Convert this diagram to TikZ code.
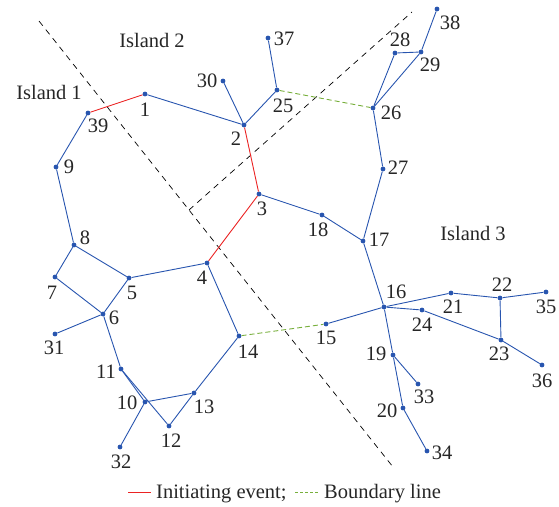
\documentclass[tikz,border=0pt]{standalone}
\usepackage{fontspec}
\setmainfont{Liberation Serif}

\definecolor{feedercol}{RGB}{40,85,175}
\definecolor{faultcol}{RGB}{235,35,35}
\definecolor{tiecol}{RGB}{120,175,60}

\tikzset{
  bus/.style={circle, fill=feedercol, inner sep=0pt, minimum size=4.8pt},
  num/.style={font=\fontsize{20.5}{24}\selectfont, inner sep=0pt, text=black!85},
  feeder/.style={feedercol, line width=0.9pt},
  fault/.style={faultcol, line width=0.9pt},
  tieline/.style={tiecol, line width=0.9pt, dash pattern=on 5pt off 3pt},
  boundary/.style={black, line width=0.7pt, dash pattern=on 6pt off 5pt},
}

\begin{document}
\begin{tikzpicture}[x=1pt, y=-1pt, line join=round]

    \useasboundingbox (0,0) rectangle (559,506);

    % island boundaries
    \coordinate (cutAs) at (39,21);
    \coordinate (cutAe) at (393,467);
    \coordinate (cutBs) at (189,210);
    \coordinate (cutBe) at (412,12);
    \draw[boundary] (cutAs) -- (cutAe);
    \draw[boundary] (cutBs) -- (cutBe);

    % buses
    \node[bus] (b1)  at (145,94)  {};
    \node[bus] (b2)  at (244,125) {};
    \node[bus] (b3)  at (259,194) {};
    \node[bus] (b4)  at (207,263) {};
    \node[bus] (b5)  at (129,278) {};
    \node[bus] (b6)  at (103,314) {};
    \node[bus] (b7)  at (55,277)  {};
    \node[bus] (b8)  at (74,245)  {};
    \node[bus] (b9)  at (56,167)  {};
    \node[bus] (b10) at (145,402) {};
    \node[bus] (b11) at (121,369) {};
    \node[bus] (b12) at (169,426) {};
    \node[bus] (b13) at (194,393) {};
    \node[bus] (b14) at (239,336) {};
    \node[bus] (b15) at (326,324) {};
    \node[bus] (b16) at (384,307) {};
    \node[bus] (b17) at (363,241) {};
    \node[bus] (b18) at (322,215) {};
    \node[bus] (b19) at (393,355) {};
    \node[bus] (b20) at (403,408) {};
    \node[bus] (b21) at (451,293) {};
    \node[bus] (b22) at (500,298) {};
    \node[bus] (b23) at (501,340) {};
    \node[bus] (b24) at (422,310) {};
    \node[bus] (b25) at (277,90)  {};
    \node[bus] (b26) at (373,108) {};
    \node[bus] (b27) at (383,169) {};
    \node[bus] (b28) at (395,53)  {};
    \node[bus] (b29) at (421,52)  {};
    \node[bus] (b30) at (223,81)  {};
    \node[bus] (b31) at (55,334)  {};
    \node[bus] (b32) at (120,447) {};
    \node[bus] (b33) at (418,384) {};
    \node[bus] (b34) at (427,451) {};
    \node[bus] (b35) at (546,292) {};
    \node[bus] (b36) at (542,365) {};
    \node[bus] (b37) at (268,38)  {};
    \node[bus] (b38) at (437,9)   {};
    \node[bus] (b39) at (88,113)  {};

    % bus numbers
    \node[num] (t1)  at (145,110) {1};
    \node[num] (t2)  at (236,139) {2};
    \node[num] (t3)  at (262,209) {3};
    \node[num] (t4)  at (202,278) {4};
    \node[num] (t5)  at (132,293) {5};
    \node[num] (t6)  at (114,318) {6};
    \node[num] (t7)  at (52,293)  {7};
    \node[num] (t8)  at (85,238)  {8};
    \node[num] (t9)  at (69,167)  {9};
    \node[num] (t10) at (127,403) {10};
    \node[num] (t11) at (106,372) {11};
    \node[num] (t12) at (171,441) {12};
    \node[num] (t13) at (204,407) {13};
    \node[num] (t14) at (248,352) {14};
    \node[num] (t15) at (326,338) {15};
    \node[num] (t16) at (396,292) {16};
    \node[num] (t17) at (379,240) {17};
    \node[num] (t18) at (318,230) {18};
    \node[num] (t19) at (376,354) {19};
    \node[num] (t20) at (387,411) {20};
    \node[num] (t21) at (453,307) {21};
    \node[num] (t22) at (502,285) {22};
    \node[num] (t23) at (499,354) {23};
    \node[num] (t24) at (422,325) {24};
    \node[num] (t25) at (283,106) {25};
    \node[num] (t26) at (391,113) {26};
    \node[num] (t27) at (398,168) {27};
    \node[num] (t28) at (400,40)  {28};
    \node[num] (t29) at (430,65)  {29};
    \node[num] (t30) at (207,81)  {30};
    \node[num] (t31) at (54,348)  {31};
    \node[num] (t32) at (121,462) {32};
    \node[num] (t33) at (424,397) {33};
    \node[num] (t34) at (442,453) {34};
    \node[num] (t35) at (546,307) {35};
    \node[num] (t36) at (542,381) {36};
    \node[num] (t37) at (284,39)  {37};
    \node[num] (t38) at (450,23)  {38};
    \node[num] (t39) at (98,126)  {39};

    % island names
    \node[num] (isl1) at (49,92)   {Island 1};
    \node[num] (isl2) at (152,40)  {Island 2};
    \node[num] (isl3) at (473,233) {Island 3};

    % tripped lines (initiating event)
    \draw[fault] (b39) -- (b1);
    \draw[fault] (b2) -- (b3);
    \draw[fault] (b3) -- (b4);

    % open tie lines across the boundary
    \draw[tieline] (b25) -- (b26);
    \draw[tieline] (b14) -- (b15);

    % island 1
    \draw[feeder] (b39) -- (b9) -- (b8) -- (b7) -- (b6) -- (b5) -- (b8);
    \draw[feeder] (b5) -- (b4) -- (b14) -- (b13) -- (b12) -- (b11) -- (b6);
    \draw[feeder] (b6) -- (b31);
    \draw[feeder] (b11) -- (b10) -- (b13);
    \draw[feeder] (b10) -- (b32);

    % island 2
    \draw[feeder] (b1) -- (b2) -- (b30);
    \draw[feeder] (b2) -- (b25) -- (b37);
    \draw[feeder] (b3) -- (b18) -- (b17) -- (b27) -- (b26) -- (b28) -- (b29) -- (b26);
    \draw[feeder] (b29) -- (b38);

    % island 3
    \draw[feeder] (b17) -- (b16) -- (b15);
    \draw[feeder] (b16) -- (b21) -- (b22) -- (b35);
    \draw[feeder] (b22) -- (b23) -- (b36);
    \draw[feeder] (b16) -- (b24) -- (b23);
    \draw[feeder] (b16) -- (b19) -- (b20) -- (b34);
    \draw[feeder] (b19) -- (b33);

    % legend
    \coordinate (legRs) at (128,492);
    \coordinate (legRe) at (151,492);
    \coordinate (legGs) at (295,492);
    \coordinate (legGe) at (318,492);
    \draw[fault] (legRs) -- (legRe);
    \node[num, anchor=base west] (legR) at (156,498) {Initiating event;};
    \draw[tieline, dash pattern=on 3pt off 2pt] (legGs) -- (legGe);
    \node[num, anchor=base west] (legG) at (324,498) {Boundary line};

\end{tikzpicture}
\end{document}
